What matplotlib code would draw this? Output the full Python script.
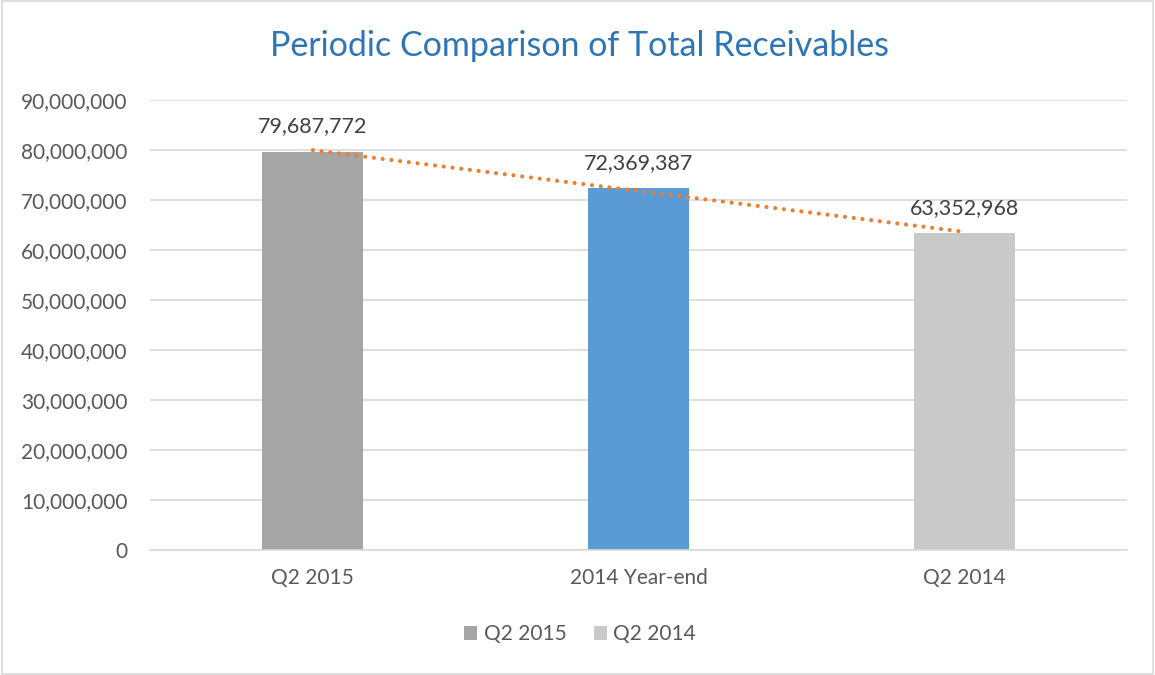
import matplotlib
matplotlib.use("Agg")
import matplotlib.pyplot as plt
from matplotlib.patches import Patch, Rectangle
import numpy as np

categories = ["Q2 2015", "2014 Year-end", "Q2 2014"]
values = [79687772, 72369387, 63352968]
bar_colors = ["#A5A5A5", "#5B9BD5", "#C9C9C9"]
legend_labels = ["Q2 2015", "Q2 2014"]
legend_colors = ["#A5A5A5", "#C9C9C9"]
yticks = list(range(0, 90000001, 10000000))

plt.rcParams['font.family'] = ['Lato', 'DejaVu Sans']

fig = plt.figure(figsize=(11.55, 6.75), dpi=100)
ax = fig.add_axes([150/1155, 125/675, 977/1155, 450/675])

x = np.arange(len(categories))
ax.bar(x, values, width=0.31, color=bar_colors, zorder=2)

# linear trendline
coef = np.polyfit(x, values, 1)
tx = np.array([x[0], x[-1]])
ax.plot(tx, np.polyval(coef, tx), linestyle=(0, (0.01, 2.1)), color="#ED7D31",
        linewidth=3.0, dash_capstyle='round', zorder=3)

for xi, v in zip(x, values):
    ax.annotate(f"{v:,}", (xi, v), xytext=(0, 11), textcoords="offset points",
                ha="center", va="bottom", fontsize=15.5, color="#404040", zorder=4)

ax.set_xlim(-0.5, 2.5)
ax.set_ylim(0, 90000000)
ax.set_yticks(yticks)
ax.set_yticklabels([f"{t:,}" for t in yticks], fontsize=15, color="#595959")
ax.set_xticks(x)
ax.set_xticklabels(categories, fontsize=15, color="#595959")
ax.tick_params(axis='y', length=0, pad=16)
ax.tick_params(axis='x', length=0, pad=13)
ax.grid(axis='y', color="#D9D9D9", linewidth=1.2, zorder=0)
ax.set_axisbelow(True)
for s in ["top", "right", "left"]:
    ax.spines[s].set_visible(False)
ax.spines["bottom"].set_color("#D9D9D9")
ax.spines["bottom"].set_linewidth(1.2)

fig.text(580/1155, 1 - 46/675, "Periodic Comparison of Total Receivables",
         ha="center", va="center", fontsize=24.5, color="#2E75B6")

handles = [Patch(facecolor=c, edgecolor='none') for c in legend_colors]
fig.legend(handles, legend_labels, loc="center", bbox_to_anchor=(580/1155, 1 - 634/675),
           ncol=2, frameon=False, fontsize=15, labelcolor="#595959",
           handlelength=0.65, handleheight=0.65, handletextpad=0.3, columnspacing=1.3)

fig.patches.append(Rectangle((0.002, 0.002), 0.996, 0.996, transform=fig.transFigure,
                             fill=False, edgecolor="#D9D9D9", linewidth=1.2))

fig.savefig("out.png", dpi=100, facecolor="white")
